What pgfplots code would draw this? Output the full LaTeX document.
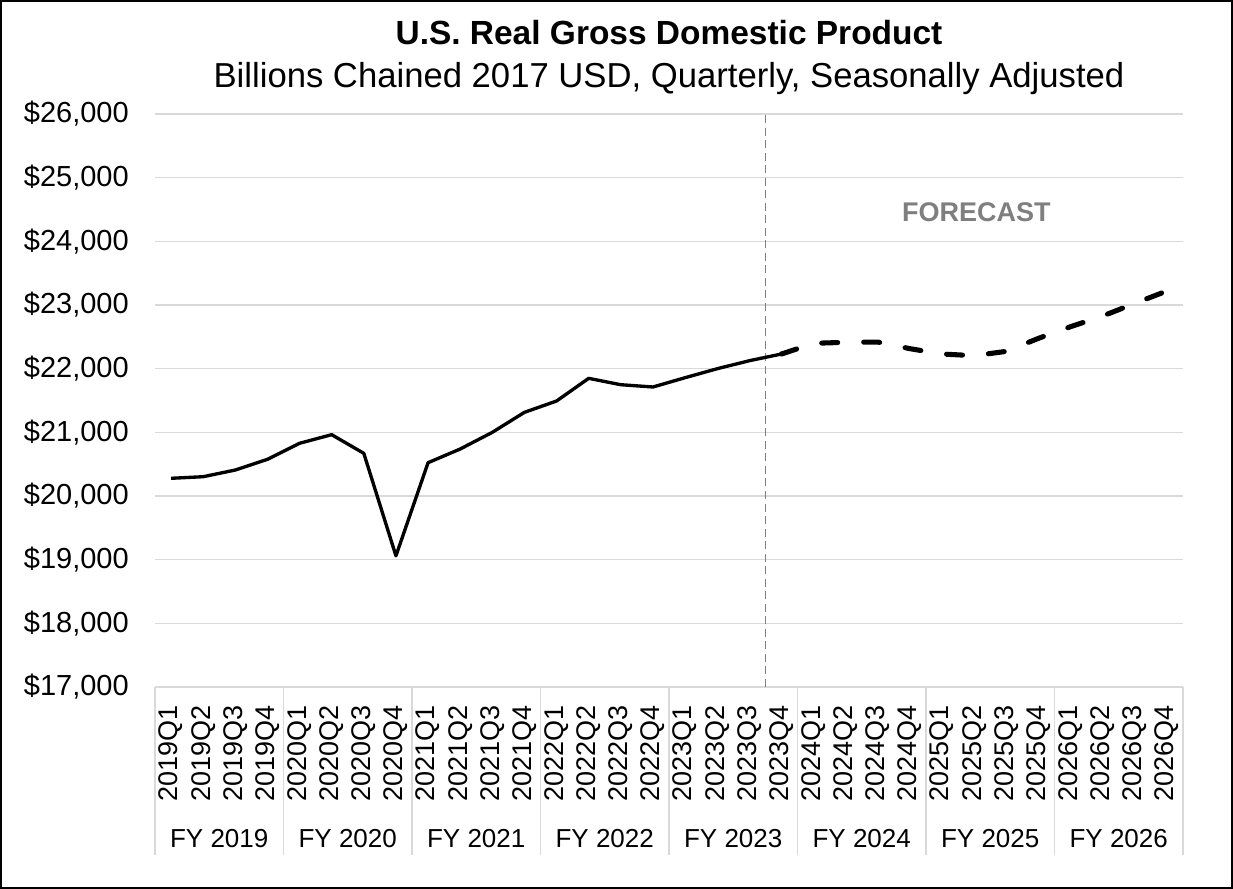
\documentclass[border=0pt]{standalone}
\usepackage{fontspec}
\setmainfont{Liberation Sans}
\usepackage{pgfplots}
\pgfplotsset{compat=1.18}
\usepackage{pgfplotstable}

\definecolor{gridgray}{HTML}{D9D9D9}
\definecolor{midgray}{HTML}{7F7F7F}

\pgfplotstableread{
x y
0 20278
1 20303
2 20408
3 20576
4 20828
5 20963
6 20670
7 19060
8 20523
9 20738
10 21000
11 21314
12 21492
13 21848
14 21748
15 21712
16 21858
17 21999
18 22125
19 22230
}\actual

\pgfplotstableread{
x y
19 22230
20 22398
21 22414
22 22418
23 22314
24 22230
25 22204
26 22272
27 22476
28 22659
29 22827
30 23026
31 23220
}\forecast

\begin{document}
\begin{tikzpicture}
\useasboundingbox (0,0) rectangle (924.75pt,666.75pt);
\fill[white] (0,0) rectangle (924.75pt,666.75pt);
\draw[line width=1.5pt] (1.1pt,1.1pt) rectangle (923.65pt,665.65pt);
\node[anchor=base, font=\fontsize{25.1pt}{28pt}\selectfont\bfseries] at (501.75pt,633pt) {U.S. Real Gross Domestic Product};
\node[anchor=base, font=\fontsize{26pt}{29pt}\selectfont] at (501.75pt,600.75pt) {Billions Chained 2017 USD, Quarterly, Seasonally Adjusted};
\begin{axis}[
  at={(116.25pt,151.5pt)}, anchor=south west,
  scale only axis, width=771pt, height=429.75pt,
  xmin=-0.5, xmax=31.5, ymin=17000, ymax=26000,
  ytick={17000,18000,...,26000},
  scaled y ticks=false,
  xtick={0,...,31},
  xticklabels={2019Q1,2019Q2,2019Q3,2019Q4,2020Q1,2020Q2,2020Q3,2020Q4,2021Q1,2021Q2,2021Q3,2021Q4,2022Q1,2022Q2,2022Q3,2022Q4,2023Q1,2023Q2,2023Q3,2023Q4,2024Q1,2024Q2,2024Q3,2024Q4,2025Q1,2025Q2,2025Q3,2025Q4,2026Q1,2026Q2,2026Q3,2026Q4},
  axis line style={draw=none},
  tick style={draw=none},
  major tick length=0pt,
  ymajorgrids, grid style={gridgray, line width=1.1pt},
  /pgf/number format/assume math mode=true,
  yticklabel={\$\pgfmathprintnumber[fixed,1000 sep={,}]{\tick}},
  yticklabel style={font=\fontsize{21.75pt}{24pt}\selectfont, anchor=east, inner sep=0pt, xshift=-19.5pt},
  xticklabel style={font=\fontsize{20.25pt}{22pt}\selectfont, rotate=90, anchor=east, inner sep=0pt},
  xticklabel shift=13.5pt,
  clip=false,
]
% group separators below the axis
\draw[gridgray, line width=1.1pt] (axis cs:-0.5,17000) -- ++(0pt,-126pt);
\draw[gridgray, line width=1.1pt] (axis cs:3.5,17000) -- ++(0pt,-126pt);
\draw[gridgray, line width=1.1pt] (axis cs:7.5,17000) -- ++(0pt,-126pt);
\draw[gridgray, line width=1.1pt] (axis cs:11.5,17000) -- ++(0pt,-126pt);
\draw[gridgray, line width=1.1pt] (axis cs:15.5,17000) -- ++(0pt,-126pt);
\draw[gridgray, line width=1.1pt] (axis cs:19.5,17000) -- ++(0pt,-126pt);
\draw[gridgray, line width=1.1pt] (axis cs:23.5,17000) -- ++(0pt,-126pt);
\draw[gridgray, line width=1.1pt] (axis cs:27.5,17000) -- ++(0pt,-126pt);
\draw[gridgray, line width=1.1pt] (axis cs:31.5,17000) -- ++(0pt,-126pt);
% fiscal year labels
\node[anchor=base, font=\fontsize{19.5pt}{22pt}\selectfont, yshift=-120.75pt] at (axis cs:1.5,17000) {FY 2019};
\node[anchor=base, font=\fontsize{19.5pt}{22pt}\selectfont, yshift=-120.75pt] at (axis cs:5.5,17000) {FY 2020};
\node[anchor=base, font=\fontsize{19.5pt}{22pt}\selectfont, yshift=-120.75pt] at (axis cs:9.5,17000) {FY 2021};
\node[anchor=base, font=\fontsize{19.5pt}{22pt}\selectfont, yshift=-120.75pt] at (axis cs:13.5,17000) {FY 2022};
\node[anchor=base, font=\fontsize{19.5pt}{22pt}\selectfont, yshift=-120.75pt] at (axis cs:17.5,17000) {FY 2023};
\node[anchor=base, font=\fontsize{19.5pt}{22pt}\selectfont, yshift=-120.75pt] at (axis cs:21.5,17000) {FY 2024};
\node[anchor=base, font=\fontsize{19.5pt}{22pt}\selectfont, yshift=-120.75pt] at (axis cs:25.5,17000) {FY 2025};
\node[anchor=base, font=\fontsize{19.5pt}{22pt}\selectfont, yshift=-120.75pt] at (axis cs:29.5,17000) {FY 2026};
% forecast divider
\addplot[midgray, line width=1.1pt, dash pattern=on 6pt off 3.4pt] coordinates {(18.5,17000) (18.5,26000)};
\node[font=\fontsize{20.25pt}{22pt}\selectfont\bfseries, text=midgray] at (axis cs:25.07,24460) {FORECAST};
% series
\addplot[black, line width=2.5pt, line join=round] table[x=x,y=y] {\actual};
\addplot[black, line width=3.8pt, line cap=round, line join=round, dash pattern=on 12pt off 19.5pt] table[x=x,y=y] {\forecast};
\end{axis}
\end{tikzpicture}
\end{document}
